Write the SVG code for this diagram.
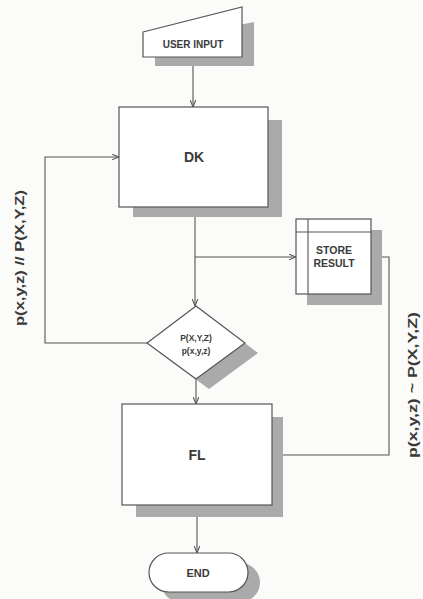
<svg xmlns="http://www.w3.org/2000/svg" width="423" height="599" viewBox="0 0 423 599">
<style>
.bg{fill:#fbfbf9}
.sh{fill:#aaaaaa}
.nd{fill:#ffffff;stroke:#555;stroke-width:1.2}
.ln{fill:none;stroke:#555;stroke-width:1.1}
.t{font-family:"Liberation Sans",Arial,sans-serif;font-weight:bold;fill:#3a3a3a;text-anchor:middle;dominant-baseline:central}
</style>
<defs>
<marker id="ah" viewBox="0 0 10 10" refX="10" refY="5" markerWidth="7" markerHeight="7" orient="auto" markerUnits="userSpaceOnUse">
<path d="M0,1 L10,5 L0,9" fill="none" stroke="#555" stroke-width="1.5"/>
</marker>
</defs>
<rect class="bg" x="0" y="0" width="423" height="599"/>
<g id="connectors">
<path class="ln" d="M193,57 V107" marker-end="url(#ah)"/>
<path class="ln" d="M195,207 V306" marker-end="url(#ah)"/>
<path class="ln" d="M195,257 H296" marker-end="url(#ah)"/>
<path class="ln" d="M196,379 V404" marker-end="url(#ah)"/>
<path class="ln" d="M147,343 H45 V157 H119" marker-end="url(#ah)"/>
<path class="ln" d="M371,257 H389 V455 H272" marker-end="url(#ah)"/>
<path class="ln" d="M197,505 V553" marker-end="url(#ah)"/>
</g>
<g id="user-input">
<polygon class="sh" points="155,42 254,22 254,66 155,66"/>
<polygon class="nd" points="143,32 242,7 242,57 143,57"/>
<text class="t" x="193" y="44" font-size="10">USER INPUT</text>
</g>
<g id="dk">
<rect class="sh" x="133" y="120" width="149" height="97"/>
<rect class="nd" x="119" y="107" width="149" height="100"/>
<text class="t" x="194" y="157" font-size="14">DK</text>
</g>
<g id="store-result">
<rect class="sh" x="307" y="230" width="75" height="75"/>
<rect class="nd" x="296" y="219" width="75" height="75"/>
<path class="ln" d="M308,219 V294 M296,232 H371"/>
<text class="t" x="334" y="250" font-size="10.5">STORE</text>
<text class="t" x="334" y="263" font-size="10.5">RESULT</text>
</g>
<g id="decision">
<polygon class="sh" points="209,316 258,353 209,389 160,353"/>
<polygon class="nd" points="196,306 245,343 196,379 147,343"/>
<text class="t" x="196" y="338" font-size="8.5">P(X,Y,Z)</text>
<text class="t" x="196" y="351" font-size="8.5">p(x,y,z)</text>
</g>
<g id="fl">
<rect class="sh" x="136" y="417" width="147" height="100"/>
<rect class="nd" x="122" y="404" width="150" height="101"/>
<text class="t" x="197" y="455" font-size="14">FL</text>
</g>
<g id="end">
<rect class="sh" x="161" y="563" width="99" height="39" rx="19.5"/>
<rect class="nd" x="149" y="553" width="99" height="39" rx="19.5"/>
<text class="t" x="198" y="573" font-size="11">END</text>
</g>
<g id="labels">
<text class="t" transform="translate(20,258) rotate(-90)" font-size="12.5" textLength="136" lengthAdjust="spacingAndGlyphs">p(x,y,z) // P(X,Y,Z)</text>
<text class="t" transform="translate(413,385) rotate(-90)" font-size="12.5" textLength="146" lengthAdjust="spacingAndGlyphs">p(x,y,z) ~ P(X,Y,Z)</text>
</g>
</svg>
